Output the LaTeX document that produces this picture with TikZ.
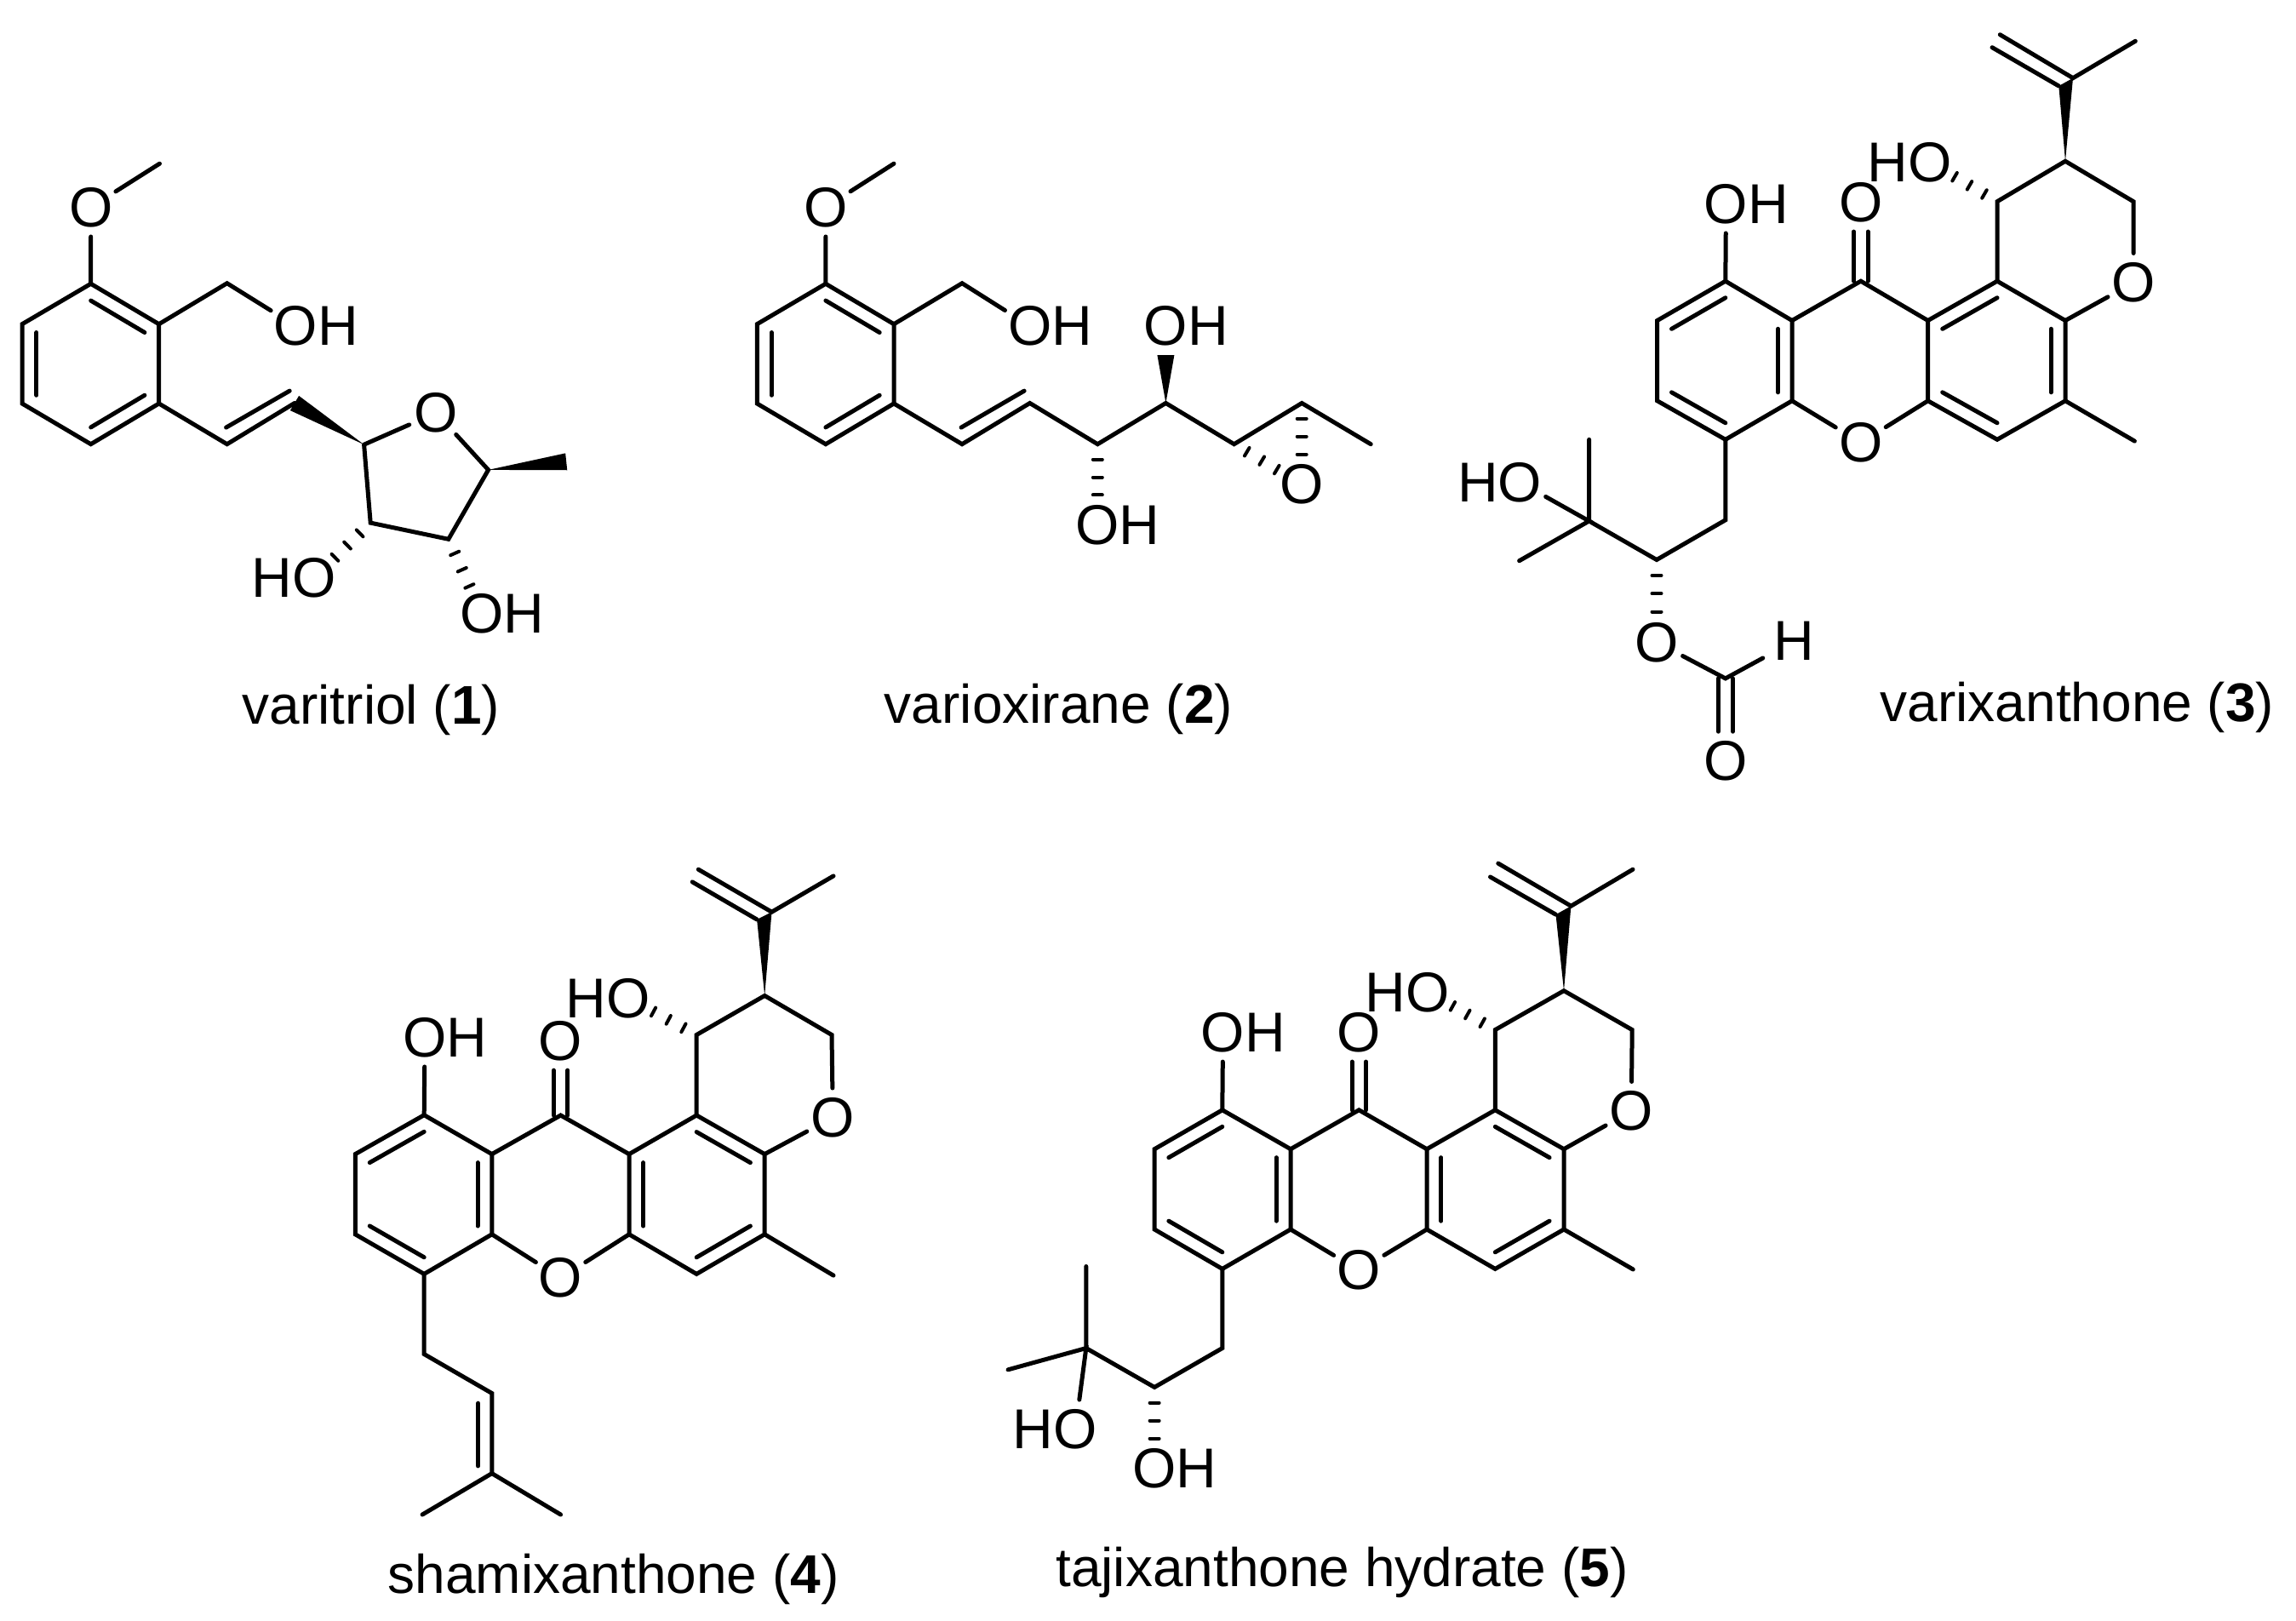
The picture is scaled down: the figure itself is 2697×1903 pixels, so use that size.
\documentclass[tikz,border=0pt]{standalone}
\usepackage{fontspec}
\setmainfont{Liberation Sans}
\usetikzlibrary{calc}
\tikzset{
	bond/.style={line width=5pt,line cap=round,line join=miter},
	atom/.style={circle,inner sep=0pt,outer sep=0pt,font=\fontsize{66}{66}\selectfont},
	caption/.style={anchor=base,inner sep=0pt,font=\fontsize{64}{64}\selectfont},
}
\newcommand{\inbond}[3]{\draw[bond] ($(#1)!.21!(#3)$) -- ($(#2)!.21!(#3)$);}
\newcommand{\wedgebond}[2]{\fill ($(#2)!10pt!90:(#1)$) -- (#1) -- ($(#2)!10pt!-90:(#1)$) -- cycle;}
\newcommand{\hashbond}[2]{\foreach \t in {.19,.41,.63}
	\draw[bond,line width=4pt] ($(#1)!\t!(#2)!5.5pt!90:(#2)$) -- ($(#1)!\t!(#2)!5.5pt!-90:(#2)$);}
\newcommand{\xanthone}[1]{
	\coordinate (#1ca) at ($(#11)!.5!(#14)$);
	\coordinate (#1cc) at ($(#110)!.5!(#113)$);
	\draw[bond] (#11) -- (#12) -- (#13) -- (#14) -- (#15) -- (#16) -- cycle;
	\draw[bond] (#16) -- (#17) -- (#19);
	\draw[bond] (#19) -- (#110) -- (#111) -- (#112) -- (#113) -- (#18) -- cycle;
	\draw[bond] (#15) -- (#1r) -- (#18);
	\draw[bond] (#112) -- (#114);
	\draw[bond] (#111) -- (#1p) -- (#115) -- (#116) -- (#117) -- (#110);
	\draw[bond] (#11) -- (#1o);
	\draw[bond] (#119) -- (#118) -- (#120);
	\draw[bond] (#121) -- (#122);
	\draw[bond,transform canvas={xshift=8.3pt}] (#17) -- (#1k);
	\draw[bond,transform canvas={xshift=-8.3pt}] (#17) -- (#1k);
	\fill (#116) -- (#122) -- (#118) -- cycle;
	\hashbond{#117}{#1h}
	\inbond{#11}{#12}{#1ca}
	\inbond{#13}{#14}{#1ca}
	\inbond{#15}{#16}{#1ca}
}
\begin{document}
\begin{tikzpicture}[x=1pt,y=-1pt]
	\useasboundingbox (0,0) rectangle (2697,1903);
	\foreach \n/\x/\y in {1/106.7/333.3,2/186.7/380.7,3/186.7/474,4/106.7/521.7,5/26/474,6/26/380.7,7/187.5/192.2,8/266.7/332.7,9/266.7/521.7,10/346/473.5,11/427.6/522.2,12/573.6/551.9,13/526.8/633.3,14/435.2/614.1,15/665.2/542.3,16/265.6/502.1,17/340.2/459.1}
		\coordinate (tri\n) at (\x,\y);
	\coordinate (tric) at ($(tri1)!.5!(tri4)$);
	\node[atom] (trio) at (106.7,243.4) {O};
	\node[atom] (triy) at (347.5,383) {O\rlap{H}};
	\node[atom] (trir) at (512.4,484.9) {O};
	\node[atom] (trih) at (369,678.7) {\llap{H}O};
	\node[atom] (triz) at (565.8,720.8) {O\rlap{H}};
	\draw[bond] (tri1) -- (tri2) -- (tri3) -- (tri4) -- (tri5) -- (tri6) -- cycle;
	\draw[bond] (tri1) -- (trio) -- (tri7);
	\draw[bond] (tri2) -- (tri8) -- (triy);
	\draw[bond] (tri3) -- (tri9) -- (tri10);
	\draw[bond] (tri16) -- (tri17);
	\draw[bond] (tri11) -- (trir) -- (tri12) -- (tri13) -- (tri14) -- (tri11);
	\inbond{tri1}{tri2}{tric}
	\inbond{tri3}{tri4}{tric}
	\inbond{tri5}{tri6}{tric}
	\wedgebond{tri11}{tri10}
	\wedgebond{tri12}{tri15}
	\hashbond{tri14}{trih}
	\hashbond{tri13}{triz}
	\node[caption] (tricap) at (436,850) {varitriol (\textbf{1})};

	\foreach \n/\x/\y in {1/969.9/333.3,2/1050/380.7,3/1050/474,4/969.9/521.7,5/889.3/474,6/889.3/380.7,7/1050/192.2,8/1130.1/332.7,9/1130.1/521.7,10/1209.7/473.5,11/1289.3/521.7,12/1369.4/473.5,13/1449.6/521.7,14/1529.2/473.5,15/1610.2/521.7,16/1129.1/502.1,17/1203.1/459.1,18/1369.4/417}
		\coordinate (oxi\n) at (\x,\y);
	\coordinate (oxic) at ($(oxi1)!.5!(oxi4)$);
	\node[atom] (oxio) at (969.9,243.4) {O};
	\node[atom] (oxiy) at (1209.7,383) {O\rlap{H}};
	\node[atom] (oxid) at (1289.3,616.6) {O\rlap{H}};
	\node[atom] (oxiu) at (1369.4,383) {O\rlap{H}};
	\node[atom] (oxie) at (1529.2,569.1) {O};
	\draw[bond] (oxi1) -- (oxi2) -- (oxi3) -- (oxi4) -- (oxi5) -- (oxi6) -- cycle;
	\draw[bond] (oxi1) -- (oxio) -- (oxi7);
	\draw[bond] (oxi2) -- (oxi8) -- (oxiy);
	\draw[bond] (oxi3) -- (oxi9) -- (oxi10) -- (oxi11) -- (oxi12) -- (oxi13) -- (oxi14) -- (oxi15);
	\draw[bond] (oxi16) -- (oxi17);
	\inbond{oxi1}{oxi2}{oxic}
	\inbond{oxi3}{oxi4}{oxic}
	\inbond{oxi5}{oxi6}{oxic}
	\wedgebond{oxi12}{oxi18}
	\hashbond{oxi11}{oxid}
	\hashbond{oxi13}{oxie}
	\hashbond{oxi14}{oxie}
	\node[caption] (oxicap) at (1243.5,849) {varioxirane (\textbf{2})};

	\foreach \n/\x/\y in {1/2026.8/330.2,2/1946.7/376.5,3/1946.7/470.8,4/2026.8/516.3,5/2105/470.8,6/2105/376.5,7/2185.8/330.2,8/2264.6/470.8,9/2264.6/376.5,10/2346/330.2,11/2426/376.5,12/2426/470.8,13/2346/516.3,14/2507.4/518.1,15/2506/236.7,16/2426/189.3,17/2346/236.7,18/2435/91.7,19/2508.3/48.3,20/2349.3/40.7,21/2340/55.7,22/2418.3/101,23/2026.8/610.8,24/1946/657.5,25/1866.6/612,26/1866.6/516.3,27/1784.6/658.7,28/2026.8/796.9}
		\coordinate (xan\n) at (\x,\y);
	\node[atom] (xank) at (2185.8,237.5) {O};
	\node[atom] (xanr) at (2185.8,519.9) {O};
	\node[atom] (xanp) at (2506.2,332) {O};
	\node[atom] (xanh) at (2266.7,190.7) {\llap{H}O};
	\node[atom] (xano) at (2027.5,239.4) {O\rlap{H}};
	\node[atom] (xanl) at (1785.5,566.5) {\llap{H}O};
	\node[atom] (xane) at (1946,754.4) {O};
	\node[atom,inner sep=6pt] (xanf) at (2107,753.2) {H};
	\node[atom] (xanc) at (2026.8,893.8) {O};
	\xanthone{xan}
	\inbond{xan9}{xan10}{xancc}
	\inbond{xan11}{xan12}{xancc}
	\inbond{xan8}{xan13}{xancc}
	\draw[bond] (xan4) -- (xan23) -- (xan24) -- (xan25) -- (xan26);
	\draw[bond] (xan27) -- (xan25) -- (xanl);
	\hashbond{xan24}{xane}
	\draw[bond] (xane) -- (xan28) -- (xanf);
	\draw[bond,transform canvas={xshift=8.6pt}] (xan28) -- (xanc);
	\draw[bond,transform canvas={xshift=-8.6pt}] (xan28) -- (xanc);
	\node[caption] (xancap) at (2440,847) {varixanthone (\textbf{3})};

	\foreach \n/\x/\y in {1/498.2/1309.7,2/417.3/1355.6,3/417.3/1449.8,4/498.2/1496.4,5/577.8/1449.8,6/577.8/1355.6,7/658.6/1310,8/739/1449.8,9/739/1355.6,10/818.2/1310,11/898.2/1355.6,12/898.2/1449.8,13/818.2/1496.4,14/979/1498.1,15/977/1215.5,16/898.2/1169.5,17/818.2/1215.5,18/906.5/1071.2,19/979/1028.9,20/820.3/1021.2,21/813.2/1035.9,22/889.1/1080,23/498.2/1590.5,24/577.8/1636.5,25/577.8/1730.6,26/496.1/1779,27/658.6/1779,28/561.6/1648.2,29/561.6/1721.9}
		\coordinate (sha\n) at (\x,\y);
	\node[atom] (shak) at (658.6,1222.6) {O};
	\node[atom] (shar) at (658.6,1501.1) {O};
	\node[atom] (shap) at (978.3,1312.6) {O};
	\node[atom] (shah) at (737.8,1172.5) {\llap{H}O};
	\node[atom] (shao) at (499,1218.4) {O\rlap{H}};
	\xanthone{sha}
	\inbond{sha10}{sha11}{shacc}
	\inbond{sha8}{sha9}{shacc}
	\inbond{sha12}{sha13}{shacc}
	\draw[bond] (sha4) -- (sha23) -- (sha24) -- (sha25) -- (sha26);
	\draw[bond] (sha25) -- (sha27);
	\draw[bond] (sha28) -- (sha29);
	\node[caption] (shacap) at (720.6,1871) {shamixanthone (\textbf{4})};

	\foreach \n/\x/\y in {1/1435.8/1303.8,2/1356.1/1349.7,3/1356.1/1444,4/1435.8/1490.4,5/1516/1444,6/1516/1349.7,7/1596.3/1303.8,8/1676/1444,9/1676/1349.7,10/1756.3/1303.8,11/1837/1349.7,12/1837/1444,13/1756.3/1490.4,14/1918.3/1491,15/1917.2/1209.6,16/1837/1163.7,17/1756.3/1209.6,18/1845.4/1064.2,19/1918/1021.2,20/1759.8/1014.1,21/1750.5/1030,22/1827.5/1074.2,23/1435.8/1583.5,24/1356.1/1629.4,25/1275.8/1583.5,26/1275.8/1487.5,27/1184.1/1608.8}
		\coordinate (taj\n) at (\x,\y);
	\node[atom] (tajk) at (1596.3,1212.5) {O};
	\node[atom] (tajr) at (1596.3,1492.2) {O};
	\node[atom] (tajp) at (1916.2,1305) {O};
	\node[atom] (tajh) at (1677.1,1165.5) {\llap{H}O};
	\node[atom] (tajo) at (1436.6,1212.5) {O\rlap{H}};
	\node[atom] (tajl) at (1263.3,1678.3) {\llap{H}O};
	\node[atom] (tajd) at (1356.1,1724.8) {O\rlap{H}};
	\xanthone{taj}
	\inbond{taj10}{taj11}{tajcc}
	\inbond{taj8}{taj9}{tajcc}
	\inbond{taj12}{taj13}{tajcc}
	\draw[bond] (taj4) -- (taj23) -- (taj24) -- (taj25) -- (taj26);
	\draw[bond] (taj27) -- (taj25) -- (tajl);
	\hashbond{taj24}{tajd}
	\node[caption] (tajcap) at (1576.5,1863) {tajixanthone hydrate (\textbf{5})};
\end{tikzpicture}
\end{document}
